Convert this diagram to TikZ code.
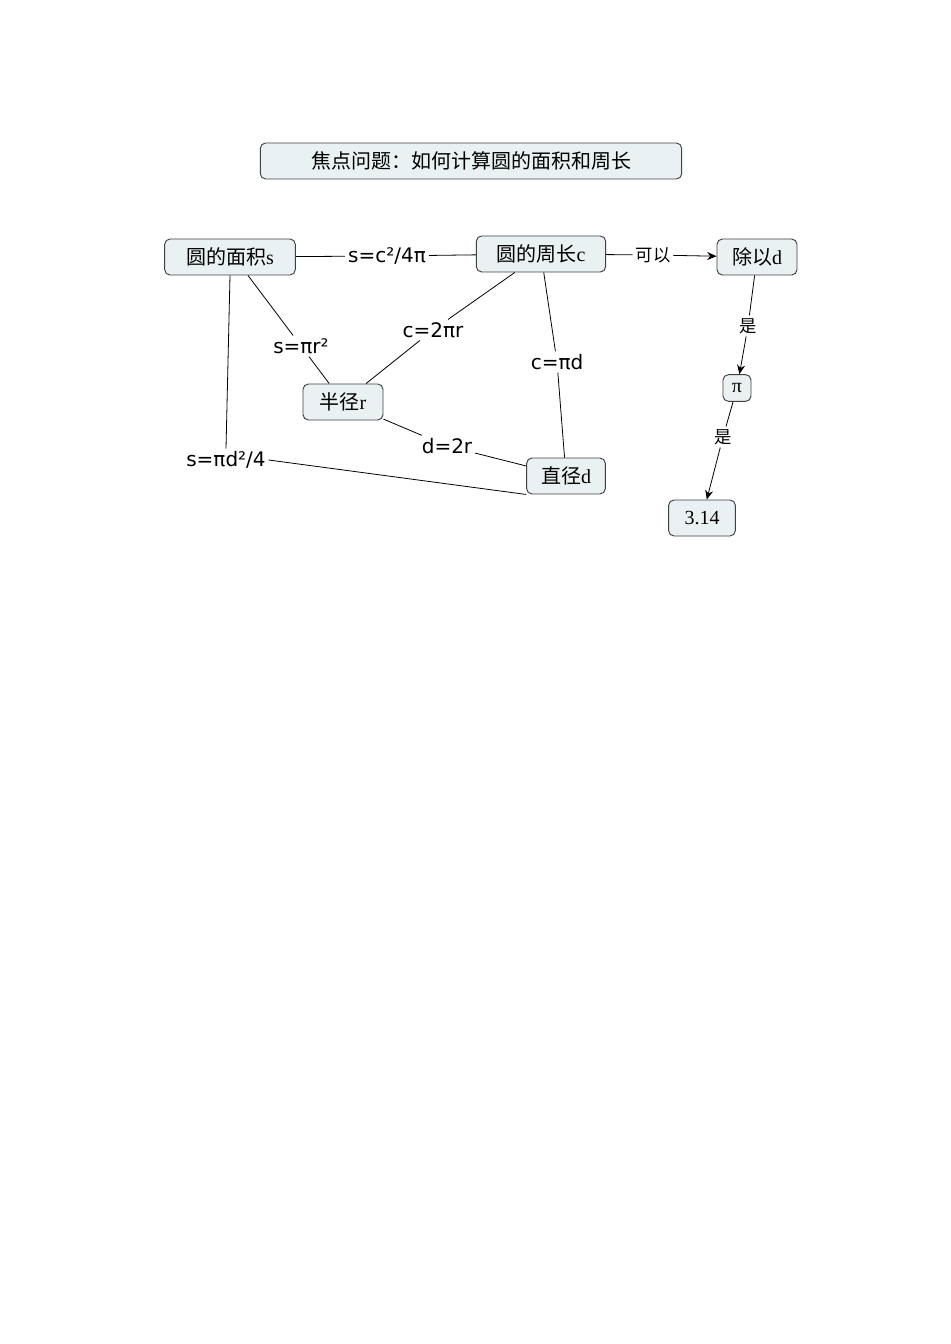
\documentclass[tikz,border=0pt]{standalone}
\usepackage{fontspec}
\setmainfont{Liberation Serif}
\newfontfamily\cjk{Noto Sans CJK SC}
\newfontfamily\lab{DejaVu Sans}
\usetikzlibrary{arrows.meta}
\definecolor{boxfill}{HTML}{E9F1F3}
\tikzset{
 box/.style={draw=black!75,fill=boxfill,rounded corners=4pt,line width=0.7pt,inner sep=3pt,font=\fontsize{15}{16}\selectfont,minimum height=27pt},
 lbl/.style={font=\lab\fontsize{15}{16}\selectfont,inner sep=2pt},
 clbl/.style={font=\cjk\fontsize{13}{14}\selectfont,inner sep=2pt},
 ln/.style={line width=0.6pt},
 arr/.style={ln,-{Stealth[length=7pt,width=6pt]}}
}
\begin{document}
\begin{tikzpicture}[x=0.75pt,y=-0.75pt]
\useasboundingbox (0,0) rectangle (950,1344);
\node[box,minimum width=316pt] (title) at (471,161) {\cjk 焦点问题：如何计算圆的面积和周长};
\node[box,minimum width=98pt] (area) at (230,257) {\cjk 圆的面积\rmfamily s};
\node[box,minimum width=97pt] (circ) at (541,254) {\cjk 圆的周长\rmfamily c};
\node[box,minimum width=60pt] (divd) at (757,257) {\cjk 除以\rmfamily d};
\node[box,minimum width=21pt,minimum height=20pt,inner sep=2pt] (pi) at (737,388) {π};
\node[box,minimum width=50pt] (v314) at (702,518) {3.14};
\node[box,minimum width=60pt] (rad) at (343,402) {\cjk 半径\rmfamily r};
\node[box,minimum width=59pt] (diam) at (566,476) {\cjk 直径\rmfamily d};
\node[lbl] (l1) at (387,256) {s=c²/4π};
\node[clbl] (l2) at (653,255) {可以};
\node[lbl] (l3) at (301,346) {s=πr²};
\node[lbl] (l4) at (433,330) {c=2πr};
\node[lbl] (l5) at (557,362) {c=πd};
\node[lbl] (l6) at (226,460) {s=πd²/4};
\node[lbl] (l7) at (447,446) {d=2r};
\node[clbl] (l8) at (748,326) {是};
\node[clbl] (l9) at (723,437) {是};
\draw[ln] (area) -- (l1) -- (circ);
\draw[ln] (circ) -- (l2);
\draw[arr] (l2) -- (divd);
\draw[ln] (area.south) ++(18pt*0.75,0) coordinate (a1);
\draw[ln] (a1) -- (l3) -- (rad);
\draw[ln] (circ) -- (l4) -- (rad);
\draw[ln] (circ) -- (l5) -- (diam);
\draw[ln] (area.south) -- (l6.north);
\draw[ln] (l6.east) -- (diam.south west);
\draw[ln] (rad) -- (l7) -- (diam);
\draw[ln] (divd) -- (l8);
\draw[arr] (l8) -- (pi);
\draw[ln] (pi) -- (l9);
\draw[arr] (l9) -- (v314);
\end{tikzpicture}
\end{document}
